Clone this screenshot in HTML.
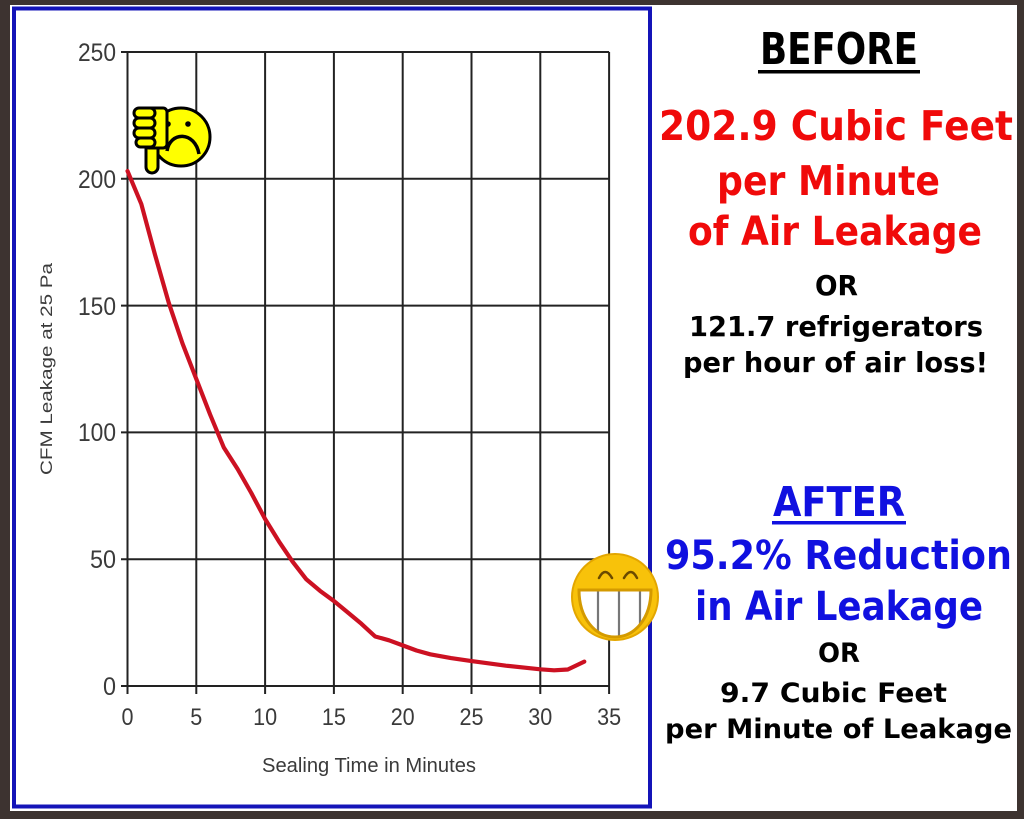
<!DOCTYPE html>
<html>
<head>
<meta charset="utf-8">
<style>
  html,body{margin:0;padding:0;background:#3d3330;}
  svg{display:block;}
</style>
</head>
<body>
<svg width="1024" height="819" viewBox="0 0 1024 819" xmlns="http://www.w3.org/2000/svg">
  <defs>
    <clipPath id="mouthClip">
      <path d="M579,590 H651 C651,618 635,637 615,637 C595,637 579,618 579,590 Z"/>
    </clipPath>
  </defs>
  <rect x="0" y="0" width="1024" height="819" fill="#3d3330"/>
  <rect x="10" y="5" width="1007" height="806" fill="#ffffff"/>
  <rect x="14" y="8.5" width="636" height="798" fill="#ffffff" stroke="#1414b8" stroke-width="4"/>

  <g stroke="#222" stroke-width="2" fill="none">
    <line x1="127.5" y1="52" x2="127.5" y2="694"/>
    <line x1="196.3" y1="52" x2="196.3" y2="694"/>
    <line x1="265.1" y1="52" x2="265.1" y2="694"/>
    <line x1="333.9" y1="52" x2="333.9" y2="694"/>
    <line x1="402.7" y1="52" x2="402.7" y2="694"/>
    <line x1="471.5" y1="52" x2="471.5" y2="694"/>
    <line x1="540.3" y1="52" x2="540.3" y2="694"/>
    <line x1="609.1" y1="52" x2="609.1" y2="694"/>
    <line x1="121" y1="686" x2="609.1" y2="686"/>
    <line x1="121" y1="559.2" x2="609.1" y2="559.2"/>
    <line x1="121" y1="432.4" x2="609.1" y2="432.4"/>
    <line x1="121" y1="305.6" x2="609.1" y2="305.6"/>
    <line x1="121" y1="178.8" x2="609.1" y2="178.8"/>
    <line x1="121" y1="52" x2="609.1" y2="52"/>
  </g>

  <g font-family="Liberation Sans, Arial, sans-serif" font-size="25" fill="#3a3a3a" text-anchor="end">
    <text x="116" y="61" textLength="38" lengthAdjust="spacingAndGlyphs">250</text>
    <text x="116" y="188" textLength="38" lengthAdjust="spacingAndGlyphs">200</text>
    <text x="116" y="315" textLength="38" lengthAdjust="spacingAndGlyphs">150</text>
    <text x="116" y="441" textLength="38" lengthAdjust="spacingAndGlyphs">100</text>
    <text x="116" y="568" textLength="26" lengthAdjust="spacingAndGlyphs">50</text>
    <text x="116" y="695" textLength="13" lengthAdjust="spacingAndGlyphs">0</text>
  </g>
  <g font-family="Liberation Sans, Arial, sans-serif" font-size="24" fill="#3a3a3a" text-anchor="middle">
    <text x="127.5" y="725" textLength="12" lengthAdjust="spacingAndGlyphs">0</text>
    <text x="196.3" y="725" textLength="12" lengthAdjust="spacingAndGlyphs">5</text>
    <text x="265.1" y="725" textLength="24" lengthAdjust="spacingAndGlyphs">10</text>
    <text x="333.9" y="725" textLength="24" lengthAdjust="spacingAndGlyphs">15</text>
    <text x="402.7" y="725" textLength="24" lengthAdjust="spacingAndGlyphs">20</text>
    <text x="471.5" y="725" textLength="24" lengthAdjust="spacingAndGlyphs">25</text>
    <text x="540.3" y="725" textLength="24" lengthAdjust="spacingAndGlyphs">30</text>
    <text x="609.1" y="725" textLength="24" lengthAdjust="spacingAndGlyphs">35</text>
  </g>
  <text x="369" y="772" font-family="Liberation Sans, Arial, sans-serif" font-size="20" fill="#3a3a3a" text-anchor="middle" textLength="214" lengthAdjust="spacingAndGlyphs">Sealing Time in Minutes</text>
  <text transform="translate(52,369) rotate(-90)" x="0" y="0" font-family="Liberation Sans, Arial, sans-serif" font-size="16.5" fill="#3a3a3a" text-anchor="middle" textLength="212" lengthAdjust="spacingAndGlyphs">CFM Leakage at 25 Pa</text>

  <polyline fill="none" stroke="#cc1122" stroke-width="4.2" stroke-linejoin="round" stroke-linecap="round"
    points="127.5,171 141.3,204 155,254.7 168.8,302.9 182.5,343.5 196.3,379 210.1,414.5 223.8,447.5 237.6,469 251.3,493 265.1,519 278.9,541.4 292.6,561.7 306.4,579.4 320.1,590.9 333.9,601 347.7,612.4 361.4,623.8 375.2,636.5 389,640.3 402.7,645.4 416.5,650.5 430.2,654.3 450.9,658.1 471.5,661.1 505.9,665.7 540.3,669.3 554.1,670.3 567.8,669.5 584.3,661.6"/>

  <g stroke="#000" stroke-width="3" stroke-linejoin="round">
    <circle cx="181" cy="137" r="29" fill="#ffff00"/>
    <circle cx="168" cy="124" r="2.8" fill="#000" stroke="none"/>
    <circle cx="188" cy="124" r="2.8" fill="#000" stroke="none"/>
    <path d="M167,151 C170,131 195,131 199,154" fill="none" stroke-width="3.5"/>
    <rect x="146" y="140" width="12" height="33" rx="6" fill="#ffff00"/>
    <rect x="145" y="108" width="22" height="40" rx="4" fill="#ffff00"/>
    <rect x="134" y="108" width="21" height="10" rx="5" fill="#ffff00"/>
    <rect x="134" y="118" width="21" height="10" rx="5" fill="#ffff00"/>
    <rect x="134" y="128" width="21" height="10" rx="5" fill="#ffff00"/>
    <rect x="136" y="138" width="19" height="9" rx="4.5" fill="#ffff00"/>
  </g>

  <g>
    <circle cx="615" cy="597" r="43" fill="#f8c20a" stroke="#e3a600" stroke-width="2"/>
    <path d="M579,590 H651 C651,618 635,637 615,637 C595,637 579,618 579,590 Z" fill="#ffffff"/>
    <g clip-path="url(#mouthClip)" stroke="#777" stroke-width="2.2">
      <line x1="598" y1="590" x2="598" y2="640"/>
      <line x1="619" y1="590" x2="619" y2="640"/>
      <line x1="640" y1="590" x2="640" y2="640"/>
    </g>
    <path d="M579,590 H651 C651,618 635,637 615,637 C595,637 579,618 579,590 Z" fill="none" stroke="#d49a00" stroke-width="3"/>
    <path d="M599,578 Q605,566 612,578" fill="none" stroke="#6b4a00" stroke-width="2.5" stroke-linecap="round"/>
    <path d="M624,578 Q631,566 637,578" fill="none" stroke="#6b4a00" stroke-width="2.5" stroke-linecap="round"/>
  </g>

  <g font-family="DejaVu Sans, Liberation Sans, sans-serif" font-weight="bold">
    <text x="760" y="64" font-size="44" fill="#000" textLength="158" lengthAdjust="spacingAndGlyphs">BEFORE</text>
    <rect x="758" y="70" width="162" height="3.5" fill="#000"/>
    <text x="659" y="140" font-size="41" fill="#f00a0a" textLength="354" lengthAdjust="spacingAndGlyphs">202.9 Cubic Feet</text>
    <text x="717" y="195" font-size="41" fill="#f00a0a" textLength="223" lengthAdjust="spacingAndGlyphs">per Minute</text>
    <text x="688" y="245" font-size="40" fill="#f00a0a" textLength="294" lengthAdjust="spacingAndGlyphs">of Air Leakage</text>
    <text x="815" y="295" font-size="28" fill="#000" textLength="43" lengthAdjust="spacingAndGlyphs">OR</text>
    <text x="689" y="336" font-size="28" fill="#000" textLength="294" lengthAdjust="spacingAndGlyphs">121.7 refrigerators</text>
    <text x="683" y="372" font-size="28" fill="#000" textLength="305" lengthAdjust="spacingAndGlyphs">per hour of air loss!</text>

    <text x="773" y="516" font-size="41" fill="#1010e0" textLength="132" lengthAdjust="spacingAndGlyphs">AFTER</text>
    <rect x="772" y="521" width="134" height="3.5" fill="#1010e0"/>
    <text x="665" y="569" font-size="40" fill="#1010e0" textLength="347" lengthAdjust="spacingAndGlyphs">95.2% Reduction</text>
    <text x="695" y="620" font-size="40" fill="#1010e0" textLength="288" lengthAdjust="spacingAndGlyphs">in Air Leakage</text>
    <text x="818" y="662" font-size="27" fill="#000" textLength="42" lengthAdjust="spacingAndGlyphs">OR</text>
    <text x="720" y="702" font-size="27" fill="#000" textLength="227" lengthAdjust="spacingAndGlyphs">9.7 Cubic Feet</text>
    <text x="665" y="738" font-size="27" fill="#000" textLength="347" lengthAdjust="spacingAndGlyphs">per Minute of Leakage</text>
  </g>
</svg>
</body>
</html>
